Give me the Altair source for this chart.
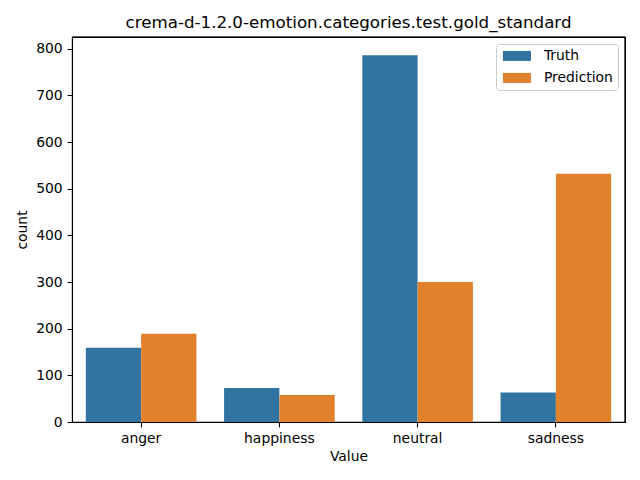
import altair as alt
import pandas as pd

categories = ["anger", "happiness", "neutral", "sadness"]
truth = [159, 73, 786, 63]
prediction = [189, 58, 300, 532]
series = ["Truth", "Prediction"]
colors = ["#3274a1", "#e1812c"]

rows = []
for c, t, p in zip(categories, truth, prediction):
    rows.append({"Value": c, "hue": "Truth", "count": t})
    rows.append({"Value": c, "hue": "Prediction", "count": p})
df = pd.DataFrame(rows)

FONT = "DejaVu Sans"
ymax = max(truth + prediction) * 1.05
W, H = 553, 385

xscale = alt.Scale(paddingInner=0.2, paddingOuter=0.1)
yscale = alt.Scale(domain=[0, ymax], nice=False, zero=True)

bars = alt.Chart(df).mark_bar().encode(
    x=alt.X("Value:N", sort=categories, title="Value", scale=xscale,
            axis=alt.Axis(labelAngle=0, grid=False, domainColor="black", tickColor="black",
                          tickSize=4.9, labelPadding=4.9, labelFontSize=13.9,
                          titleFontSize=13.9, labelColor="black", titleColor="black",
                          titleFontWeight="normal", labelFont=FONT, titleFont=FONT,
                          titlePadding=4, domainWidth=1.1, tickWidth=1.1)),
    xOffset=alt.XOffset("hue:N", sort=series, scale=alt.Scale(domain=series, paddingInner=0, paddingOuter=0)),
    y=alt.Y("count:Q", title="count", scale=yscale,
            axis=alt.Axis(values=list(range(0, 801, 100)), grid=False, domainColor="black",
                          tickColor="black", tickSize=4.9, labelPadding=4.9, labelFontSize=13.9,
                          titleFontSize=13.9, labelColor="black", titleColor="black",
                          titleFontWeight="normal", labelFont=FONT, titleFont=FONT,
                          titlePadding=6, domainWidth=1.1, tickWidth=1.1)),
    color=alt.Color("hue:N", sort=series, scale=alt.Scale(domain=series, range=colors),
                    legend=alt.Legend(title=None, orient="top-right", offset=7,
                                      symbolType="M-1,-1L4.6,-1L4.6,1L-1,1Z",
                                      symbolSize=100, symbolStrokeWidth=0, symbolOpacity=1,
                                      labelFontSize=13.9, labelFont=FONT, labelColor="black",
                                      labelOffset=29, rowPadding=7, padding=5,
                                      strokeColor="#cccccc", fillColor="white",
                                      cornerRadius=3)),
)

spine_df = pd.DataFrame({"k": [0]})
top_spine = alt.Chart(spine_df).mark_rule(color="black", strokeWidth=1.2).encode(
    y=alt.datum(ymax))
right_spine = alt.Chart(spine_df).mark_rule(color="black", strokeWidth=1.2).encode(
    x=alt.value(W), y=alt.datum(0), y2=alt.datum(ymax))

chart = alt.layer(bars, top_spine, right_spine).properties(
    width=W, height=H,
    title=alt.TitleParams("crema-d-1.2.0-emotion.categories.test.gold_standard",
                          fontSize=16.7, font=FONT, fontWeight="normal", color="black",
                          anchor="middle", baseline="alphabetic", offset=8.4, frame="group",
                          dy=17),
    padding={"left": 64, "top": 29, "right": 7, "bottom": 50},
    autosize=alt.AutoSizeParams(type="none"),
).configure_view(stroke="black", strokeWidth=1.1)

chart.save("out.html", embed_options={"renderer": "svg", "actions": False})
